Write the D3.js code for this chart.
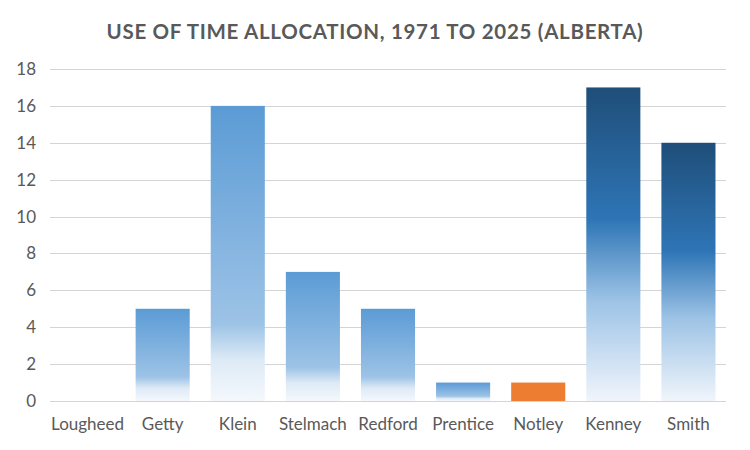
<!DOCTYPE html>
<html><head><meta charset="utf-8">
<script src="https://cdn.jsdelivr.net/npm/d3@7"></script>
<style>body{margin:0;background:#fff}svg{display:block}</style>
</head><body>
<svg id="c" width="750" height="450"></svg>
<script>
const categories = ["Lougheed","Getty","Klein","Stelmach","Redford","Prentice","Notley","Kenney","Smith"];
const values = [0,5,16,7,5,1,1,17,14];
const styles = ["light","light","light","light","light","light","orange","dark","dark"];
const yTicks = [0,2,4,6,8,10,12,14,16,18];
const title = "USE OF TIME ALLOCATION, 1971 TO 2025 (ALBERTA)";

const svg = d3.select("#c");
const m = {l:50, r:24, t:69, b:49};
const W = 750, H = 450;
const x = d3.scaleBand().domain(categories).range([m.l, W-m.r]).paddingInner(0.28).paddingOuter(0.14);
const y = d3.scaleLinear().domain([0,18]).range([H-m.b, m.t]);

const defs = svg.append("defs");
const gl = defs.append("linearGradient").attr("id","gLight").attr("x1",0).attr("y1",0).attr("x2",0).attr("y2",1);
[[0,"#5B9BD5"],[0.74,"#9DC3E6"],[0.86,"#DDEAF6"],[1,"#F4F8FC"]].forEach(s=>gl.append("stop").attr("offset",s[0]).attr("stop-color",s[1]));
const gd = defs.append("linearGradient").attr("id","gDark").attr("x1",0).attr("y1",0).attr("x2",0).attr("y2",1);
[[0,"#1F4E79"],[0.42,"#2E75B6"],[0.68,"#9DC3E6"],[1,"#F0F5FB"]].forEach(s=>gd.append("stop").attr("offset",s[0]).attr("stop-color",s[1]));
const fills = {light:"url(#gLight)", dark:"url(#gDark)", orange:"#ED7D31"};

svg.append("text").attr("x",375).attr("y",39).attr("text-anchor","middle")
  .attr("font-family","Lato, 'Open Sans', sans-serif").attr("font-weight","bold").attr("font-size",20.5)
  .attr("fill","#595959").attr("letter-spacing",0.7).text(title);

// gridlines
svg.append("g").selectAll("line").data(yTicks).join("line")
  .attr("x1",m.l).attr("x2",W-m.r).attr("y1",d=>Math.round(y(d))+0.5).attr("y2",d=>Math.round(y(d))+0.5)
  .attr("stroke","#D4D4D4").attr("stroke-width",1);

// y axis labels
const ya = svg.append("g").attr("transform",`translate(${m.l},0)`)
  .call(d3.axisLeft(y).tickValues(yTicks).tickSize(0).tickPadding(14));
ya.select(".domain").remove();
ya.selectAll("text").attr("font-family","Lato, 'Open Sans', sans-serif").attr("font-size",17).attr("fill","#595959");

// bars
svg.append("g").selectAll("rect").data(categories.map((c,i)=>({c, v:values[i], s:styles[i]})).filter(d=>d.v>0)).join("rect")
  .attr("x",d=>x(d.c)).attr("width",x.bandwidth())
  .attr("y",d=>y(d.v)).attr("height",d=>y(0)-y(d.v))
  .attr("fill",d=>fills[d.s]);

// x axis line
svg.append("line").attr("x1",m.l).attr("x2",W-m.r).attr("y1",Math.round(y(0))+0.5).attr("y2",Math.round(y(0))+0.5)
  .attr("stroke","#D4D4D4");

const xa = svg.append("g").attr("transform",`translate(0,${y(0)})`)
  .call(d3.axisBottom(x).tickSize(0).tickPadding(17));
xa.select(".domain").remove();
xa.selectAll("text").attr("font-family","Lato, 'Open Sans', sans-serif").attr("font-size",17).attr("fill","#595959");
</script>
</body></html>
